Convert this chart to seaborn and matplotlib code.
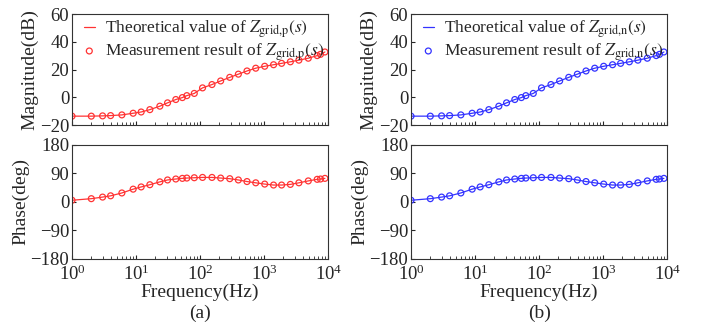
import numpy as np
import seaborn as sns
import matplotlib.pyplot as plt
from matplotlib.ticker import LogLocator, NullFormatter

# frequencies of the measured points (Hz)
freq = [1, 2, 3, 4, 6, 9, 12, 16.4, 23.5, 31, 41.7, 52.8, 62, 81, 109, 153, 209,
        290, 395, 539, 738, 1018, 1400, 1870, 2560, 3480, 4880, 6720, 7560, 8870]

# magnitude (dB) and phase (deg)
mag = [-13.6, -13.6, -13.4, -13.2, -12.7, -11.5, -10.6, -8.9, -6.4, -4.0, -1.6, -0.2,
       1.2, 2.8, 6.8, 9.2, 11.8, 14.4, 16.7, 19.0, 21.0, 22.4, 23.5, 24.5, 25.6,
       26.8, 28.2, 30.1, 31.0, 32.7]
phase = [5, 10, 15, 19, 28, 40, 47, 54, 63, 69, 72, 74, 75, 76, 77, 77, 75, 73, 69,
         64, 60, 56, 53, 53, 55, 60, 66, 71, 72, 74]

panels = ['(a)', '(b)']
subs = ['p', 'n']
colors = ['#ff3333', '#3333ff']

sns.set_style('ticks')
plt.rcParams['font.family'] = ['Liberation Serif', 'DejaVu Serif']
plt.rcParams['mathtext.fontset'] = 'stix'
plt.rcParams['xtick.direction'] = 'in'
plt.rcParams['ytick.direction'] = 'in'

fig = plt.figure(figsize=(7.02, 3.29), dpi=100)

lefts = [0.1026, 0.5855]
for i in range(2):
    c = colors[i]
    z = r'$Z_{\mathrm{grid{,}%s}}(s)$' % subs[i]
    ax1 = fig.add_axes([lefts[i], 0.620, 0.365, 0.337])
    ax2 = fig.add_axes([lefts[i], 0.213, 0.365, 0.347])

    sns.lineplot(x=freq, y=mag, ax=ax1, color=c, lw=0.9,
                 label='Theoretical value of ' + z)
    sns.scatterplot(x=freq, y=mag, ax=ax1, marker='o', s=18, facecolor='none',
                    edgecolor=c, linewidth=0.9, label='Measurement result of ' + z)
    sns.lineplot(x=freq, y=phase, ax=ax2, color=c, lw=0.9)
    sns.scatterplot(x=freq, y=phase, ax=ax2, marker='o', s=18, facecolor='none',
                    edgecolor=c, linewidth=0.9)

    for ax in (ax1, ax2):
        ax.set_xscale('log')
        ax.set_xlim(1, 1e4)
        ax.xaxis.set_major_locator(LogLocator(base=10, numticks=10))
        ax.xaxis.set_minor_locator(LogLocator(base=10, subs=np.arange(2, 10), numticks=20))
        ax.xaxis.set_minor_formatter(NullFormatter())
        ax.tick_params(labelsize=13.5, length=3, width=0.8, pad=2)
        ax.tick_params(axis='x', pad=4)
        ax.tick_params(which='minor', length=2, width=0.6)
        for sp in ax.spines.values():
            sp.set_linewidth(0.8)
            sp.set_color('#333333')

    ax1.set_ylim(-20, 60)
    ax1.set_yticks([-20, 0, 20, 40, 60])
    ax1.set_xticklabels([])
    ax1.set_ylabel('Magnitude(dB)', fontsize=14, labelpad=1)
    ax1.legend(loc='upper left', frameon=False, fontsize=12.5, handlelength=0.6,
               handletextpad=0.6, borderaxespad=0.0, labelspacing=0.05,
               bbox_to_anchor=(0.02, 1.02))

    ax2.set_ylim(-180, 180)
    ax2.set_yticks([-180, -90, 0, 90, 180])
    ax2.set_ylabel('Phase(deg)', fontsize=14, labelpad=1)
    ax2.set_xlabel('Frequency(Hz)', fontsize=14, labelpad=0)

    fig.text(lefts[i] + 0.365 / 2, 0.035, panels[i], ha='center', fontsize=14)

fig.savefig('out.png', dpi=100)
